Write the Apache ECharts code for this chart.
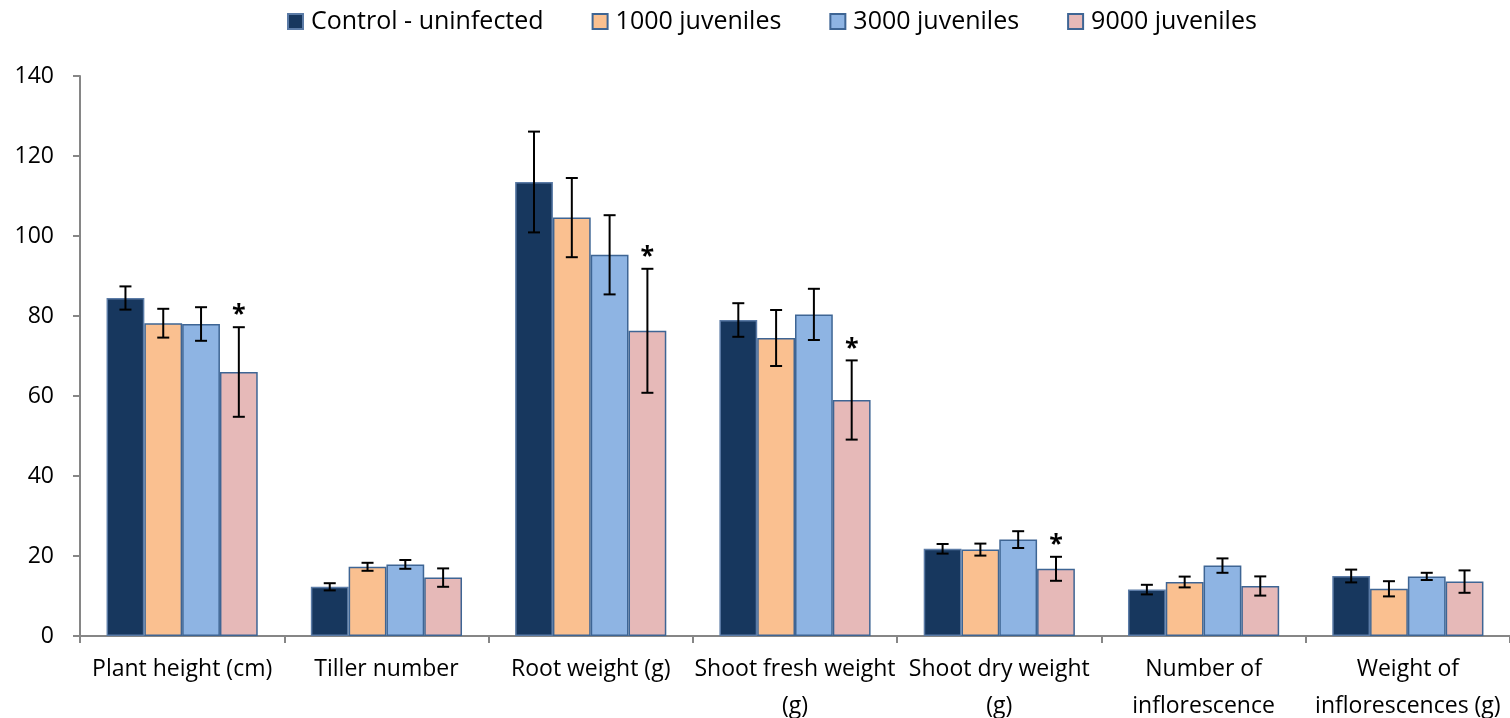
<!DOCTYPE html>
<html>
<head>
<meta charset="utf-8">
<script src="https://cdn.jsdelivr.net/npm/echarts@6/dist/echarts.min.js"></script>
<style>
  html, body { margin: 0; padding: 0; background: #fff; }
  #chart { width: 1510px; height: 718px; }
</style>
</head>
<body>
<div id="chart"></div>
<script>
// Plant growth traits under increasing nematode inoculum
const categories = [
  'Plant height (cm)', 'Tiller number', 'Root weight (g)',
  'Shoot fresh weight\n(g)', 'Shoot dry weight\n(g)',
  'Number of\ninflorescence', 'Weight of\ninflorescences (g)'
];
const seriesNames = ['Control - uninfected', '1000 juveniles', '3000 juveniles', '9000 juveniles'];

const controlMean = [84.5, 12.3, 113.5, 79.0, 21.8, 11.6, 15.0];
const j1000Mean   = [78.2, 17.3, 104.6, 74.5, 21.6, 13.5, 11.8];
const j3000Mean   = [78.0, 17.9, 95.3, 80.4, 24.1, 17.6, 14.9];
const j9000Mean   = [66.0, 14.6, 76.3, 59.0, 16.8, 12.5, 13.6];

const controlErr = [2.9, 0.9, 12.6, 4.2, 1.2, 1.2, 1.6];
const j1000Err   = [3.6, 1.0, 9.9, 7.0, 1.5, 1.35, 1.9];
const j3000Err   = [4.2, 1.1, 9.9, 6.4, 2.1, 1.8, 0.9];
const j9000Err   = [11.2, 2.3, 15.5, 9.9, 3.0, 2.4, 2.8];

// significant difference from control (marked with *)
const j9000Significant = [1, 0, 1, 1, 1, 0, 0];

const yTicks = { min: 0, max: 140, interval: 20 };

const means = [controlMean, j1000Mean, j3000Mean, j9000Mean];
const errs = [controlErr, j1000Err, j3000Err, j9000Err];
const sigs = [null, null, null, j9000Significant];
const fills = ['#17375E', '#FAC090', '#8EB4E3', '#E6B9B8'];
const borders = ['#5B7BA6', '#3E6594', '#3E6594', '#3E6594'];

const CATEGORY_GAP = 0.26;
const FONT = '"Open Sans", sans-serif';

const barSeries = means.map((vals, i) => ({
  name: seriesNames[i],
  type: 'bar',
  data: vals,
  barGap: '0%',
  barCategoryGap: (CATEGORY_GAP * 100) + '%',
  itemStyle: { color: fills[i], borderColor: borders[i], borderWidth: 1.5 },
  z: 2
}));

const errorSeries = means.map((vals, i) => ({
  name: seriesNames[i] + ' error',
  type: 'custom',
  data: vals.map((m, k) => [k, m, errs[i][k], sigs[i] ? sigs[i][k] : 0]),
  z: 5,
  silent: true,
  renderItem: function (params, api) {
    const k = api.value(0);
    const m = api.value(1);
    const e = api.value(2);
    const star = api.value(3);
    const band = api.size([1, 0])[0];
    const barW = band * (1 - CATEGORY_GAP) / 4;
    const center = api.coord([k, m]);
    const x = center[0] + (i - 1.5) * barW;
    const top = api.coord([k, m + e])[1];
    const bot = api.coord([k, m - e])[1];
    const cap = 6;
    const style = { stroke: '#000', lineWidth: 2 };
    const children = [
      { type: 'line', shape: { x1: x, y1: top, x2: x, y2: bot }, style },
      { type: 'line', shape: { x1: x - cap, y1: top, x2: x + cap, y2: top }, style },
      { type: 'line', shape: { x1: x - cap, y1: bot, x2: x + cap, y2: bot }, style }
    ];
    if (star) {
      children.push({
        type: 'text',
        style: {
          text: '*', x: x, y: top - 12, align: 'center', verticalAlign: 'middle',
          fill: '#000', font: 'bold 25px ' + FONT
        }
      });
    }
    return { type: 'group', children };
  }
}));

const chart = echarts.init(document.getElementById('chart'), null, { renderer: 'canvas' });
chart.setOption({
  animation: false,
  backgroundColor: '#fff',
  legend: {
    data: seriesNames,
    top: 4,
    left: 282,
    itemWidth: 15,
    itemHeight: 15,
    itemGap: 48,
    icon: 'rect',
    textStyle: { fontFamily: FONT, fontSize: 25, color: '#000', padding: [0, 0, 0, 3] }
  },
  grid: { left: 80, right: 0, top: 76, bottom: 82, containLabel: false, outerBoundsMode: 'none' },
  xAxis: {
    type: 'category',
    data: categories,
    axisLine: { lineStyle: { color: '#868686', width: 2 } },
    axisTick: { show: true, alignWithLabel: false, length: 7, lineStyle: { color: '#868686', width: 2 } },
    axisLabel: {
      interval: 0, color: '#000', fontFamily: FONT, fontSize: 23,
      lineHeight: 37, margin: 15
    }
  },
  yAxis: {
    type: 'value',
    min: yTicks.min, max: yTicks.max, interval: yTicks.interval,
    axisLine: { show: true, lineStyle: { color: '#868686', width: 2 } },
    axisTick: { show: true, length: 7, lineStyle: { color: '#868686', width: 2 } },
    splitLine: { show: false },
    axisLabel: { color: '#000', fontFamily: FONT, fontSize: 23, margin: 26 }
  },
  series: barSeries.concat(errorSeries)
});
</script>
</body>
</html>
